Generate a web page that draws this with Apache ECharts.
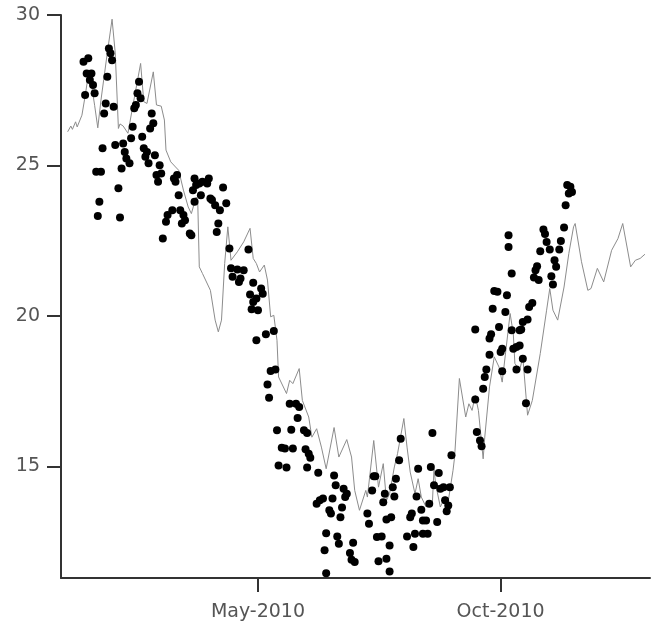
<!DOCTYPE html>
<html>
<head>
<meta charset="utf-8">
<title>Daily temperature, 2010</title>
<script src="https://cdn.jsdelivr.net/npm/echarts@6/dist/echarts.min.js"></script>
<style>
  html, body { margin: 0; padding: 0; background: #ffffff; }
  #chart { width: 656px; height: 630px; }
</style>
</head>
<body>
<div id="chart"></div>
<script>
// Modelled temperature (grey line): day of year 2010 (0 = 1 Jan) and value
const lineDayOfYear = [0,2,3,5,6,9,11,13,15,17,19,21,25,28,30,32,33,35,38,41,46,48,50,54,56,59,61,62,65,68,70,73,76,78,81,82,83,85,90,93,95,97,99,101,103,107,111,115,117,119,121,124,126,128,130,132,133,138,140,142,146,148,152,154,157,160,163,168,171,176,179,181,184,188,189,193,196,199,201,203,206,208,212,214,216,219,221,223,226,230,231,232,235,238,240,243,244,247,251,253,255,257,259,262,263,266,269,272,274,279,281,282,285,287,290,293,298,302,304,306,309,313,316,319,320,324,328,330,334,338,343,347,350,355,358,361,364];
const lineTemp = [26.12,26.31,26.20,26.45,26.28,26.67,27.3,28.0,27.7,27.0,26.25,27.17,28.74,29.86,28.74,26.23,26.38,26.31,26.07,26.95,28.39,27.12,27.06,28.11,27.01,26.97,26.51,25.51,25.12,24.95,24.84,24.18,23.62,23.40,23.95,23.85,21.63,21.41,20.85,19.86,19.47,19.86,21.74,22.96,21.85,22.13,22.46,22.91,21.91,21.74,21.46,21.69,21.19,19.97,20.02,19.19,17.97,17.42,17.86,17.75,18.25,17.19,16.64,15.97,16.25,15.64,14.92,16.29,15.31,15.89,15.31,14.20,13.54,14.20,13.98,15.86,14.31,15.09,13.87,14.09,14.98,15.42,16.59,15.64,14.81,14.09,14.59,13.98,13.65,13.81,14.92,14.42,13.65,14.0,13.85,14.87,15.31,17.92,16.64,17.08,16.86,17.36,16.86,15.25,15.97,17.64,18.64,18.30,17.80,20.08,19.41,18.42,18.19,18.64,16.70,17.19,18.75,20.19,20.91,20.19,19.86,20.96,22.07,22.96,23.07,21.80,20.85,20.91,21.58,21.13,22.18,22.57,23.07,21.63,21.85,21.91,22.05];

// Observed temperature (black dots): day of year 2010 and value
const obsDayOfYear = [10,13,12,15,14,16,11,17,18,21,20,19,22,23,24,25,26,27,28,29,30,32,33,34,35,36,37,39,40,41,42,43,44,45,46,47,48,49,50,51,52,53,54,55,56,57,58,59,60,62,63,66,67,68,69,70,71,72,73,74,77,78,79,80,80,81,83,84,85,88,89,90,91,93,94,95,96,98,100,102,103,104,107,108,109,111,114,115,116,117,117,119,119,120,122,123,125,126,127,128,130,131,132,133,135,137,138,140,141,142,144,145,146,149,150,151,151,152,153,157,158,159,161,162,163,163,165,166,167,168,169,170,171,172,173,174,175,176,178,179,180,181,189,190,192,193,194,195,196,198,199,200,201,201,203,203,204,205,206,207,209,210,214,216,217,218,219,220,221,223,224,224,226,227,228,229,230,231,233,234,235,237,238,240,239,241,242,257,257,258,260,261,262,263,264,266,266,267,268,269,271,272,273,274,274,276,277,278,278,280,280,281,283,283,285,285,286,287,287,289,290,290,291,293,294,295,296,297,298,300,301,302,304,305,306,307,308,310,311,313,314,315,316,317,318];
const obsTemp = [28.45,28.56,28.06,28.06,27.84,27.67,27.34,27.40,24.79,24.79,23.79,23.32,25.57,26.73,27.06,27.95,28.89,28.73,28.50,26.95,25.68,24.24,23.27,24.90,25.73,25.45,25.23,25.07,25.90,26.29,26.90,27.01,27.40,27.78,27.23,25.95,25.57,25.29,25.45,25.07,26.23,26.73,26.40,25.34,24.68,24.46,25.01,24.73,22.57,23.13,23.35,23.51,24.57,24.46,24.68,24.01,23.51,23.07,23.35,23.18,22.74,22.68,24.18,23.79,24.57,24.35,24.40,24.01,24.46,24.40,24.57,23.90,23.85,23.68,22.79,23.07,23.51,24.27,23.74,22.24,21.58,21.30,21.54,21.13,21.24,21.52,22.21,20.71,20.22,21.10,20.46,19.19,20.58,20.19,20.91,20.74,19.39,17.72,17.28,18.17,19.50,18.22,16.20,15.03,15.62,15.59,14.96,17.08,16.22,15.59,17.08,16.61,16.97,16.20,15.57,16.11,14.96,15.42,15.29,13.76,14.79,13.87,13.93,12.21,11.45,12.78,13.54,13.43,13.93,14.70,14.37,12.67,12.43,13.31,13.63,14.26,13.98,14.09,12.12,11.90,12.46,11.82,13.43,13.09,14.20,14.67,14.67,12.65,11.85,12.67,13.81,14.09,13.23,11.93,11.51,12.37,13.31,14.31,14.00,14.59,15.20,15.92,12.67,13.31,13.43,12.32,12.76,14.00,14.92,13.56,13.20,12.76,13.20,12.76,13.76,14.98,16.11,14.37,13.15,14.78,14.26,14.31,13.87,13.70,13.51,14.31,15.37,19.55,17.22,16.14,15.86,15.67,17.58,17.97,18.22,18.71,19.25,19.39,20.24,20.83,20.80,19.63,18.80,18.91,18.16,20.13,20.69,22.29,22.68,21.41,19.52,18.91,18.97,18.22,19.02,19.52,19.55,19.80,18.58,17.10,19.88,18.22,20.30,20.43,21.28,21.52,21.65,21.19,22.15,22.87,22.72,22.46,22.21,21.32,21.04,21.85,21.63,22.21,22.49,22.94,23.68,24.35,24.07,24.29,24.12];

// Axis ticks
const yTickValues = [15, 20, 25, 30];
const xTickDates = ['2010-05-01', '2010-10-01'];
const monthNames = ['Jan','Feb','Mar','Apr','May','Jun','Jul','Aug','Sep','Oct','Nov','Dec'];

const DAY = 86400000;
const yearStart = Date.UTC(2010, 0, 1);
const toTime = d => yearStart + d * DAY;
const parseDate = s => {
  const p = s.split('-').map(Number);
  return Date.UTC(p[0], p[1] - 1, p[2]);
};

const lineData = lineDayOfYear.map((d, i) => [toTime(d), lineTemp[i]]);
const obsData = obsDayOfYear.map((d, i) => [toTime(d), obsTemp[i]]);
const xTickTimes = xTickDates.map(parseDate);

const axisColor = '#333333';
const labelStyle = { color: '#555555', fontFamily: 'DejaVu Sans', fontSize: 19 };

const chart = echarts.init(document.getElementById('chart'), null, { renderer: 'canvas' });
chart.setOption({
  backgroundColor: '#ffffff',
  animation: false,
  grid: { left: 61, right: 6, top: 15, bottom: 52, containLabel: false },
  xAxis: {
    // timestamps on a linear scale, labelled as Mon-YYYY
    type: 'value',
    min: yearStart - 4.2 * DAY,
    max: yearStart + 367.2 * DAY,
    splitLine: { show: false },
    axisLine: { onZero: false, lineStyle: { color: axisColor, width: 2 } },
    axisTick: { show: true, length: 14, inside: false, customValues: xTickTimes,
      lineStyle: { color: axisColor, width: 2 } },
    axisLabel: Object.assign({
      margin: 25,
      customValues: xTickTimes,
      formatter: v => {
        const dt = new Date(v);
        return monthNames[dt.getUTCMonth()] + '-' + dt.getUTCFullYear();
      }
    }, labelStyle)
  },
  yAxis: {
    type: 'value',
    min: 11.29,
    max: 30,
    splitLine: { show: false },
    axisLine: { show: true, lineStyle: { color: axisColor, width: 2 } },
    axisTick: { show: true, length: 14, inside: false, customValues: yTickValues,
      lineStyle: { color: axisColor, width: 2 } },
    axisLabel: Object.assign({ margin: 21, customValues: yTickValues }, labelStyle)
  },
  series: [
    {
      type: 'line',
      data: lineData,
      symbol: 'none',
      lineStyle: { color: '#8c8c8c', width: 1 },
      z: 2
    },
    {
      type: 'scatter',
      data: obsData,
      symbol: 'circle',
      symbolSize: 8,
      itemStyle: { color: '#000000', opacity: 1 },
      z: 3
    }
  ]
});
</script>
</body>
</html>
